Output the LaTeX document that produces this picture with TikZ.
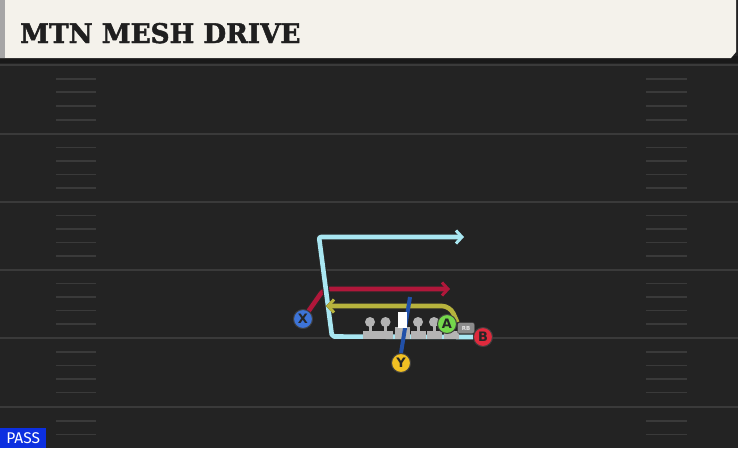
\documentclass[tikz,border=0pt]{standalone}
\usepackage{fontspec}
\setmainfont{DejaVu Sans}
\newfontfamily\titlefont{DejaVu Serif}[BoldFeatures={FakeBold=1.8}]
\newfontfamily\tagfont{Fira Sans}
\usetikzlibrary{arrows.meta,backgrounds}
\definecolor{fieldbg}{HTML}{232323}
\definecolor{yardgray}{HTML}{3A3A3A}
\definecolor{headbg}{HTML}{F4F2EB}
\definecolor{cyanroute}{HTML}{A9E7F2}
\definecolor{redroute}{HTML}{B0173A}
\definecolor{olive}{HTML}{B7B33D}
\definecolor{navyroute}{HTML}{2150A8}
\definecolor{xblue}{HTML}{3D74D8}
\definecolor{agreen}{HTML}{74D84B}
\definecolor{bred}{HTML}{DF2A3D}
\definecolor{ygold}{HTML}{F1C023}
\definecolor{teegray}{HTML}{B4B4B4}
\definecolor{passblue}{HTML}{0C2FE0}

\begin{document}
\begin{tikzpicture}[x=1pt,y=-1pt]
\tikzstyle{yard}=[draw=yardgray, line width=2]
\tikzstyle{hash}=[draw=yardgray, line width=1.6]
\tikzstyle{route}=[line width=4.6, line join=round, preaction={draw=black!85, line width=6.8}]
\tikzstyle{tip}=[-{Straight Barb[length=6pt,width=13pt,line width=3pt]}]
\tikzstyle{player}=[circle, draw=black!75, line width=1, minimum size=19pt, inner sep=0pt, font=\bfseries\fontsize{13}{13}\selectfont, text=black!85]
\useasboundingbox (0,0) rectangle (738,448);
\node (title) [anchor=base west, inner sep=0pt, text=black!88, font=\titlefont\bfseries\fontsize{27}{27}\selectfont] at (20,43) {\scalebox{0.97}[1]{MTN MESH DRIVE}};
\node (X) [player, fill=xblue] at (303,319) {X};
\node (A) [player, fill=agreen] at (447,324) {A};
\node (B) [player, fill=bred] at (483,337) {B};
\node (Y) [player, fill=ygold] at (401,363) {Y};
\node (RB) [draw=black!80, fill=black!45, rounded corners=2, minimum width=17pt, minimum height=11pt, inner sep=0pt, font=\bfseries\fontsize{5.5}{5.5}\selectfont, text=black!10] at (466,328) {RB};
\node (pass) [fill=passblue, text=white, anchor=north west, minimum width=46pt, minimum height=20pt, inner sep=0pt, font=\tagfont\fontsize{15.5}{15.5}\selectfont] at (0,428) {PASS};
\coordinate (redbend) at (324,289);
\coordinate (redend) at (450,289);
\coordinate (cyanlow) at (332,336.5);
\coordinate (cyanhigh) at (319,237);
\coordinate (cyanend) at (464,237);
\coordinate (olivebend) at (450,306);
\coordinate (oliveend) at (326,306);
\coordinate (navyend) at (410,297);
\begin{scope}[on background layer]
\fill [fieldbg] (0,0) rectangle (738,448);
\fill [black!90] (0,56) rectangle (738,63);
\fill [headbg] (0,0) -- (736,0) -- (736,52) -- (731,58) -- (0,58) -- cycle;
\fill [black!35] (0,0) rectangle (5,58);
\draw [yard] (0,65) -- (738,65);
\draw [yard] (0,133.5) -- (738,133.5);
\draw [yard] (0,201.5) -- (738,201.5);
\draw [yard] (0,269.5) -- (738,269.5);
\draw [yard] (0,338) -- (738,338);
\draw [yard] (0,407) -- (738,407);
\draw [hash] (56,79) -- (96,79) (646,79) -- (687,79);
\draw [hash] (56,92) -- (96,92) (646,92) -- (687,92);
\draw [hash] (56,106) -- (96,106) (646,106) -- (687,106);
\draw [hash] (56,120) -- (96,120) (646,120) -- (687,120);
\draw [hash] (56,147.5) -- (96,147.5) (646,147.5) -- (687,147.5);
\draw [hash] (56,161) -- (96,161) (646,161) -- (687,161);
\draw [hash] (56,174.5) -- (96,174.5) (646,174.5) -- (687,174.5);
\draw [hash] (56,188) -- (96,188) (646,188) -- (687,188);
\draw [hash] (56,215.5) -- (96,215.5) (646,215.5) -- (687,215.5);
\draw [hash] (56,229) -- (96,229) (646,229) -- (687,229);
\draw [hash] (56,242.5) -- (96,242.5) (646,242.5) -- (687,242.5);
\draw [hash] (56,256) -- (96,256) (646,256) -- (687,256);
\draw [hash] (56,283.5) -- (96,283.5) (646,283.5) -- (687,283.5);
\draw [hash] (56,297) -- (96,297) (646,297) -- (687,297);
\draw [hash] (56,310.5) -- (96,310.5) (646,310.5) -- (687,310.5);
\draw [hash] (56,324) -- (96,324) (646,324) -- (687,324);
\draw [hash] (56,352) -- (96,352) (646,352) -- (687,352);
\draw [hash] (56,365.5) -- (96,365.5) (646,365.5) -- (687,365.5);
\draw [hash] (56,379) -- (96,379) (646,379) -- (687,379);
\draw [hash] (56,392.5) -- (96,392.5) (646,392.5) -- (687,392.5);
\draw [hash] (56,421) -- (96,421) (646,421) -- (687,421);
\draw [hash] (56,434.5) -- (96,434.5) (646,434.5) -- (687,434.5);
\draw [route, redroute, tip, rounded corners=6] (X) -- (redbend) -- (redend);
\draw [route, cyanroute, tip, rounded corners=2] (B.west) -- (cyanlow) -- (cyanhigh) -- (cyanend);
\draw [route, olive, tip, rounded corners=8] (RB.north west) -- (olivebend) -- (oliveend);
\fill [teegray] (370,322) circle (5);
\fill [teegray] (368.5,322) rectangle (371.5,333);
\fill [teegray] (362.5,331) rectangle (377.5,339);
\fill [teegray] (385.5,322) circle (5);
\fill [teegray] (384,322) rectangle (387,333);
\fill [teegray] (378,331) rectangle (393,339);
\fill [teegray] (418,322) circle (5);
\fill [teegray] (416.5,322) rectangle (419.5,333);
\fill [teegray] (410.5,331) rectangle (425.5,339);
\fill [teegray] (434,322) circle (5);
\fill [teegray] (432.5,322) rectangle (435.5,333);
\fill [teegray] (426.5,331) rectangle (441.5,339);
\fill [teegray] (443.5,331) rectangle (458.5,339);
\fill [teegray] (394.5,327) rectangle (409.5,339);
\draw [line width=4, navyroute] (Y.north) -- (navyend);
\fill [white] (397.5,312) rectangle (406.5,328);
\end{scope}
\end{tikzpicture}
\end{document}
